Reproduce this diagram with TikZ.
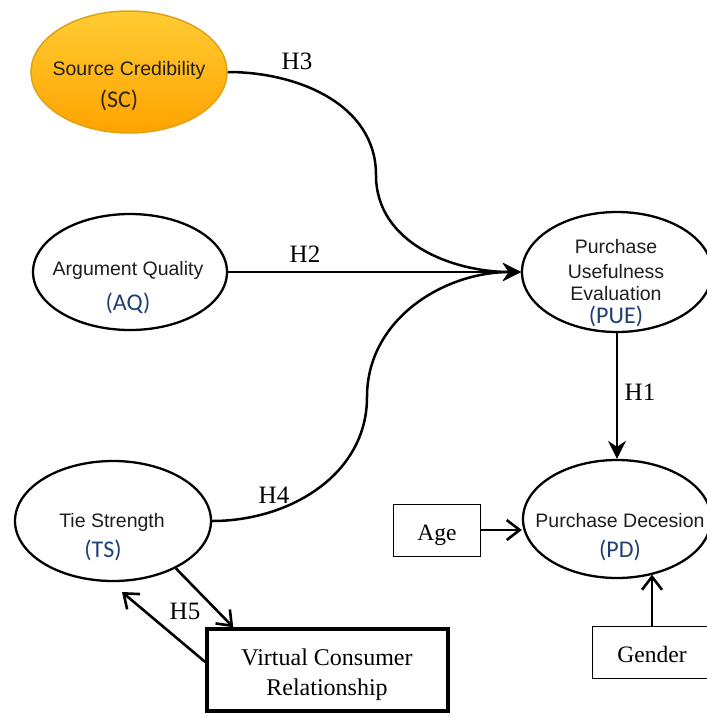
\documentclass[tikz,border=0pt]{standalone}
\usepackage{fontspec}
\setmainfont{Liberation Serif}
\newfontfamily\arialf{Liberation Sans}
\newfontfamily\calibf{Carlito}
\usetikzlibrary{shapes.geometric,arrows.meta}
\definecolor{abbr}{RGB}{31,64,115}
\definecolor{scabbr}{RGB}{45,38,20}
\definecolor{sctop}{RGB}{255,204,51}
\definecolor{scbot}{RGB}{255,163,0}
\definecolor{scborder}{RGB}{222,162,20}
\definecolor{txt}{RGB}{30,30,30}
\begin{document}
\begin{tikzpicture}[x=1pt,y=-1pt,
 construct/.style={ellipse,draw=black,line width=2.3pt,inner sep=0pt},
 labsans/.style={anchor=base,inner sep=0pt,text=txt,font=\arialf\fontsize{19.5}{23}\selectfont},
 abbrev/.style={anchor=base,inner sep=0pt,text=abbr,font=\calibf\fontsize{24}{28}\selectfont},
 hyp/.style={anchor=base,inner sep=0pt,font=\fontsize{25}{30}\selectfont},
 boxtext/.style={anchor=base,inner sep=0pt,font=\fontsize{23.5}{28}\selectfont},
 ctrlbox/.style={draw,line width=1pt,inner sep=0pt},
 hyparrow/.style={line width=2.5pt,-{Stealth[length=18pt,width=18pt,inset=6pt]}},
 ctrlarrow/.style={line width=2.6pt,-{Straight Barb[length=13pt,width=20pt,line width=2.6pt]}},
]
\useasboundingbox (0,0) rectangle (707,716);
\fill[white] (0,0) rectangle (707,716);

% constructs
\node[construct, top color=sctop, bottom color=scbot, draw=scborder, line width=1.5pt,
      minimum width=196pt, minimum height=122pt] (SC) at (129,72) {};
\node[construct, minimum width=194pt, minimum height=116pt] (AQ) at (130,272) {};
\node[construct, minimum width=190pt, minimum height=120pt] (PUE) at (617,272) {};
\node[construct, minimum width=196pt, minimum height=120pt] (TS) at (113,521) {};
\node[construct, minimum width=188pt, minimum height=118pt] (PD) at (617,519) {};

% control / moderator boxes
\node[ctrlbox, minimum width=87pt, minimum height=52pt] (Age) at (436.5,530) {};
\node[ctrlbox, minimum width=120pt, minimum height=52pt] (Gender) at (652,652) {};
\node[draw, line width=3.5pt, inner sep=0pt, minimum width=241pt, minimum height=82pt] (VCR) at (327.5,670) {};

% texts
\node[labsans] (tSC1) at (129,75) {Source Credibility};
\node[abbrev, text=scabbr] (tSC2) at (119,107) {(SC)};
\node[labsans] (tAQ1) at (128,275) {Argument Quality};
\node[abbrev] (tAQ2) at (128,310) {(AQ)};
\node[labsans] (tPUE1) at (616,253) {Purchase};
\node[labsans] (tPUE2) at (616,278) {Usefulness};
\node[labsans] (tPUE3) at (616,300) {Evaluation};
\node[abbrev] (tPUE4) at (616,323) {(PUE)};
\node[labsans] (tTS1) at (112,527) {Tie Strength};
\node[abbrev] (tTS2) at (103,557) {(TS)};
\node[labsans] (tPD1) at (620,527) {Purchase Decesion};
\node[abbrev] (tPD2) at (620,557) {(PD)};
\node[boxtext] (tAge) at (437,540) {Age};
\node[boxtext] (tGender) at (652,662) {Gender};
\node[boxtext, font=\fontsize{24}{28}\selectfont] (tVCR1) at (327,665) {Virtual Consumer};
\node[boxtext, font=\fontsize{24}{28}\selectfont] (tVCR2) at (327,695) {Relationship};

% hypothesis labels
\node[hyp] (H3) at (297,69) {H3};
\node[hyp] (H2) at (305,262) {H2};
\node[hyp] (H1) at (640,400) {H1};
\node[hyp] (H4) at (274,503) {H4};
\node[hyp] (H5) at (185,619) {H5};

% helper coordinates
\coordinate (m3) at (376,175);
\coordinate (m4) at (367,397);
\coordinate (h5tip) at (122,592);

% connectors
\draw[hyparrow] (SC.east) to[out=0,in=90] (m3) to[out=-90,in=180] (PUE.west);
\draw[hyparrow] (AQ.east) -- (PUE.west);
\draw[hyparrow] (TS.east) to[out=0,in=-90] (m4) to[out=90,in=180] (PUE.west);
\draw[hyparrow] (PUE.south) -- (PD.north);
\draw[ctrlarrow] (Age.east) -- (Age.east -| PD.west);
\draw[ctrlarrow] (Gender.north) -- (Gender.north |- PD.-57);
\draw[ctrlarrow] (TS.-37) -- ([xshift=28pt]VCR.north west);
\draw[ctrlarrow] ([yshift=8pt]VCR.west) -- (h5tip);
\end{tikzpicture}
\end{document}
